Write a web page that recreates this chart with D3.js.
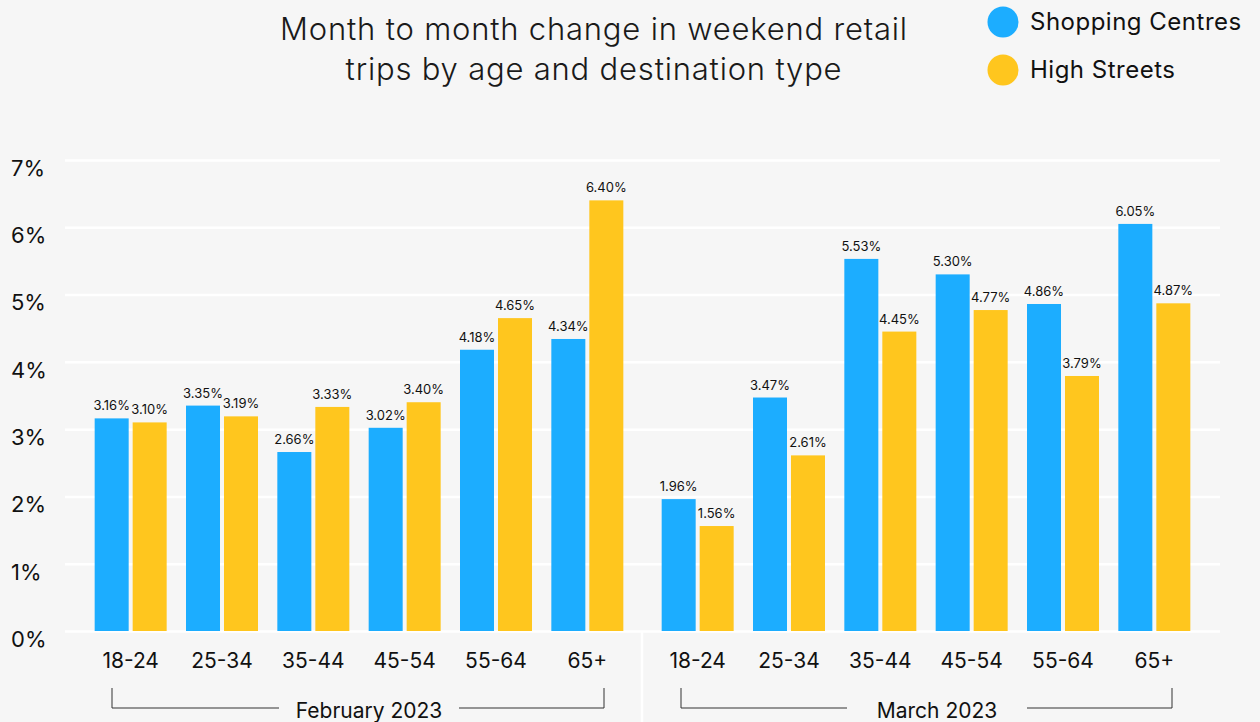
<!DOCTYPE html>
<html>
<head>
<meta charset="utf-8">
<script src="https://cdn.jsdelivr.net/npm/d3@7"></script>
<style>
  html, body { margin: 0; padding: 0; background: #f6f6f6; }
  svg { display: block; font-family: Inter, "Noto Sans", sans-serif; }
</style>
</head>
<body>
<div id="chart"></div>
<script>
const months = ['February 2023', 'March 2023'];
const ageGroups = ['18-24', '25-34', '35-44', '45-54', '55-64', '65+'];
const seriesNames = ['Shopping Centres', 'High Streets'];
const febShopping = [3.16, 3.35, 2.66, 3.02, 4.18, 4.34];
const febHigh = [3.10, 3.19, 3.33, 3.40, 4.65, 6.40];
const marShopping = [1.96, 3.47, 5.53, 5.30, 4.86, 6.05];
const marHigh = [1.56, 2.61, 4.45, 4.77, 3.79, 4.87];
const yTicks = [0, 1, 2, 3, 4, 5, 6, 7];

const panels = [
  { month: months[0], values: [febShopping, febHigh], range: [85, 633], bracket: [112, 604], labelX: 369 },
  { month: months[1], values: [marShopping, marHigh], range: [652, 1200], bracket: [681, 1172], labelX: 937 },
];

const width = 1260;
const height = 722;
const colors = ['#1cadff', '#ffc61e'];

const svg = d3.select('#chart').append('svg')
  .attr('width', width)
  .attr('height', height);

svg.append('rect').attr('width', width).attr('height', height).attr('fill', '#f6f6f6');

const y = d3.scaleLinear().domain([0, 7]).range([631, 160]);

// gridlines + y labels
const yAxis = svg.append('g')
  .attr('transform', 'translate(65,0)')
  .call(d3.axisLeft(y).tickValues(yTicks).tickSize(-(1220 - 65)).tickFormat((d) => `${d}%`));
yAxis.select('.domain').remove();
yAxis.selectAll('.tick line').attr('stroke', '#ffffff').attr('stroke-width', 2.5);
yAxis.selectAll('.tick text')
  .attr('x', -54)
  .attr('dy', '0.7em')
  .attr('text-anchor', 'start')
  .attr('fill', '#111')
  .attr('font-size', 22)
  .attr('font-family', 'Inter, sans-serif');

// separator between the months
svg.append('line')
  .attr('x1', 642).attr('x2', 642)
  .attr('y1', 631).attr('y2', height)
  .attr('stroke', '#ffffff')
  .attr('stroke-width', 2.5);

const inner = d3.scaleBand().domain([0, 1]).range([-36, 36]).paddingInner(0.105);

panels.forEach((p) => {
  const x = d3.scaleBand().domain(ageGroups).range(p.range);
  const g = svg.append('g');

  const rows = [];
  p.values.forEach((vals, s) => {
    vals.forEach((v, i) => rows.push({ s, age: ageGroups[i], v }));
  });

  g.selectAll('rect.bar')
    .data(rows)
    .join('rect')
    .attr('class', 'bar')
    .attr('x', (d) => x(d.age) + x.bandwidth() / 2 + inner(d.s))
    .attr('width', inner.bandwidth())
    .attr('y', (d) => y(d.v))
    .attr('height', (d) => y(0) - y(d.v))
    .attr('fill', (d) => colors[d.s]);

  g.selectAll('text.val')
    .data(rows)
    .join('text')
    .attr('class', 'val')
    .attr('x', (d) => x(d.age) + x.bandwidth() / 2 + inner(d.s) + inner.bandwidth() / 2)
    .attr('y', (d) => y(d.v) - 8)
    .attr('text-anchor', 'middle')
    .attr('font-size', 13)
    .attr('fill', '#111')
    .text((d) => `${d.v.toFixed(2)}%`);

  const xAxis = svg.append('g')
    .attr('transform', 'translate(0,631)')
    .call(d3.axisBottom(x).tickSize(0).tickPadding(22));
  xAxis.select('.domain').remove();
  xAxis.selectAll('.tick text')
    .attr('font-size', 21)
    .attr('fill', '#111')
    .attr('font-family', 'Inter, sans-serif');

  // month bracket, gap left for the label
  const [bx0, bx1] = p.bracket;
  const gapHalf = 90;
  svg.append('path')
    .attr('d', `M${bx0},688V708H${p.labelX - gapHalf}M${p.labelX + gapHalf},708H${bx1}V688`)
    .attr('fill', 'none')
    .attr('stroke', '#333')
    .attr('stroke-width', 1);
  svg.append('text')
    .attr('x', p.labelX)
    .attr('y', 718)
    .attr('text-anchor', 'middle')
    .attr('font-size', 21)
    .attr('fill', '#111')
    .text(p.month);
});

// title
const title = svg.append('text')
  .attr('text-anchor', 'middle')
  .attr('font-size', 31)
  .attr('font-weight', 300)
  .attr('letter-spacing', 0.8)
  .attr('fill', '#1a1a1a');
title.append('tspan').attr('x', 594).attr('y', 40).text('Month to month change in weekend retail');
title.append('tspan').attr('x', 594).attr('y', 80).text('trips by age and destination type');

// legend
const legend = svg.append('g')
  .selectAll('g')
  .data(seriesNames)
  .join('g')
  .attr('transform', (d, i) => `translate(1003,${22 + i * 48})`);
legend.append('circle').attr('r', 15.5).attr('fill', (d, i) => colors[i]);
legend.append('text')
  .attr('x', 27)
  .attr('dy', '0.35em')
  .attr('font-size', 24)
  .attr('letter-spacing', 0.5)
  .attr('fill', '#111')
  .text((d) => d);
</script>
</body>
</html>
